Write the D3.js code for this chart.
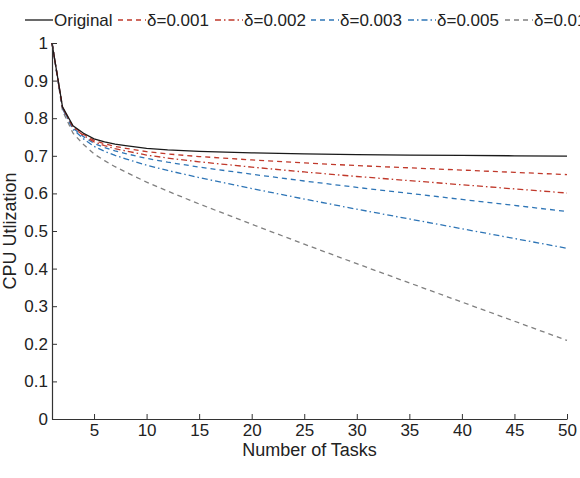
<!DOCTYPE html>
<html>
<head>
<meta charset="utf-8">
<script src="https://cdn.jsdelivr.net/npm/d3@7"></script>
<style>
  body { margin: 0; background: #fff; }
  text { font-family: "Liberation Sans", Arial, sans-serif; }
</style>
</head>
<body>
<svg id="chart" width="580" height="478"></svg>
<script>
var margin = {"top": 43, "right": 13, "bottom": 59, "left": 52};
var width = 580;
var height = 478;

// data
var tasks = [1, 2, 3, 4, 5, 6, 7, 8, 10, 12, 15, 20, 25, 30, 35, 40, 45, 50];
var original = [1.0, 0.83, 0.78, 0.76, 0.745, 0.737, 0.731, 0.727, 0.72, 0.716, 0.712, 0.708, 0.705, 0.703, 0.702, 0.701, 0.700, 0.699];
var delta001 = [1.0, 0.829, 0.778, 0.757, 0.741, 0.732, 0.725, 0.720, 0.711, 0.705, 0.698, 0.689, 0.681, 0.674, 0.668, 0.662, 0.656, 0.650];
var delta002 = [1.0, 0.828, 0.776, 0.754, 0.737, 0.727, 0.719, 0.713, 0.702, 0.694, 0.684, 0.670, 0.657, 0.645, 0.634, 0.623, 0.612, 0.601];
var delta003 = [1.0, 0.827, 0.774, 0.751, 0.733, 0.722, 0.713, 0.706, 0.693, 0.683, 0.670, 0.651, 0.633, 0.616, 0.600, 0.584, 0.568, 0.552];
var delta005 = [1.0, 0.825, 0.770, 0.745, 0.725, 0.712, 0.701, 0.692, 0.675, 0.661, 0.642, 0.613, 0.585, 0.558, 0.532, 0.506, 0.480, 0.454];
var delta01 = [1.0, 0.82, 0.76, 0.73, 0.705, 0.687, 0.671, 0.657, 0.63, 0.606, 0.572, 0.518, 0.465, 0.413, 0.362, 0.311, 0.26, 0.209];
var seriesNames = ["Original", "\u03b4=0.001", "\u03b4=0.002", "\u03b4=0.003", "\u03b4=0.005", "\u03b4=0.01"];
var xTicks = [5, 10, 15, 20, 25, 30, 35, 40, 45, 50];
var yTicks = [0, 0.1, 0.2, 0.3, 0.4, 0.5, 0.6, 0.7, 0.8, 0.9, 1];

var series = [
  {name: seriesNames[0], values: original, color: "#1a1a1a", dash: null},
  {name: seriesNames[1], values: delta001, color: "#c0392b", dash: "5,4"},
  {name: seriesNames[2], values: delta002, color: "#c0392b", dash: "6,3,1.5,3"},
  {name: seriesNames[3], values: delta003, color: "#2e75b6", dash: "5,4"},
  {name: seriesNames[4], values: delta005, color: "#2e75b6", dash: "6,3,1.5,3"},
  {name: seriesNames[5], values: delta01, color: "#808080", dash: "5,4"}
];

// scales
var xScale = d3.scaleLinear()
  .domain([1, 50])
  .range([margin.left, width - margin.right]);
var yScale = d3.scaleLinear()
  .domain([0, 1])
  .range([height - margin.bottom, margin.top]);

var svg = d3.select('#chart');

// lines
var line = d3.line()
  .x(function(d, i){ return xScale(tasks[i]); })
  .y(function(d){ return yScale(d); });

svg.selectAll('path.series')
  .data(series.slice().reverse())
  .enter().append('path')
  .attr('class', 'series')
  .attr('d', function(d){ return line(d.values); })
  .attr('fill', 'none')
  .attr('stroke', function(d){ return d.color; })
  .attr('stroke-width', 1.3)
  .attr('stroke-dasharray', function(d){ return d.dash; });

// axes
var xAxis = d3.axisBottom(xScale)
  .tickValues(xTicks)
  .tickSizeInner(-5)
  .tickSizeOuter(0)
  .tickPadding(5)
  .tickFormat(d3.format('d'));
var yAxis = d3.axisLeft(yScale)
  .tickValues(yTicks)
  .tickSizeInner(-5)
  .tickSizeOuter(0)
  .tickPadding(4)
  .tickFormat(function(d){ return d === 0 || d === 1 ? d3.format('d')(d) : d3.format('.1f')(d); });

var gx = svg.append('g')
  .attr('transform', 'translate(' + [0, height - margin.bottom] + ')')
  .call(xAxis);
var gy = svg.append('g')
  .attr('transform', 'translate(' + [margin.left, 0] + ')')
  .call(yAxis);

[gx, gy].forEach(function(g){
  g.select('.domain').attr('stroke', '#333').attr('stroke-width', 1.2);
  g.selectAll('.tick line').attr('stroke', '#333');
  g.selectAll('.tick text').attr('font-size', 17).attr('fill', '#222')
    .style('font-family', '"Liberation Sans", Arial, sans-serif');
});

// axis titles
svg.append('text')
  .attr('x', xScale(25.5))
  .attr('y', 456)
  .attr('text-anchor', 'middle')
  .attr('font-size', 18)
  .attr('fill', '#222')
  .text('Number of Tasks');
svg.append('text')
  .attr('transform', 'translate(' + [16, yScale(0.5)] + ') rotate(-90)')
  .attr('text-anchor', 'middle')
  .attr('font-size', 18)
  .attr('fill', '#222')
  .text('CPU Utlization');

// legend
var legendX = [25, 118, 215, 311, 408, 505];
var legend = svg.selectAll('g.legend')
  .data(series)
  .enter().append('g')
  .attr('class', 'legend')
  .attr('transform', function(d, i){ return 'translate(' + [legendX[i], 20] + ')'; });
legend.append('line')
  .attr('x1', 0).attr('x2', 28)
  .attr('y1', 0).attr('y2', 0)
  .attr('stroke', function(d){ return d.color; })
  .attr('stroke-width', 1.3)
  .attr('stroke-dasharray', function(d){ return d.dash; });
legend.append('text')
  .attr('x', 29)
  .attr('y', 6)
  .attr('font-size', 17)
  .attr('fill', '#222')
  .text(function(d){ return d.name; });
</script>
</body>
</html>
